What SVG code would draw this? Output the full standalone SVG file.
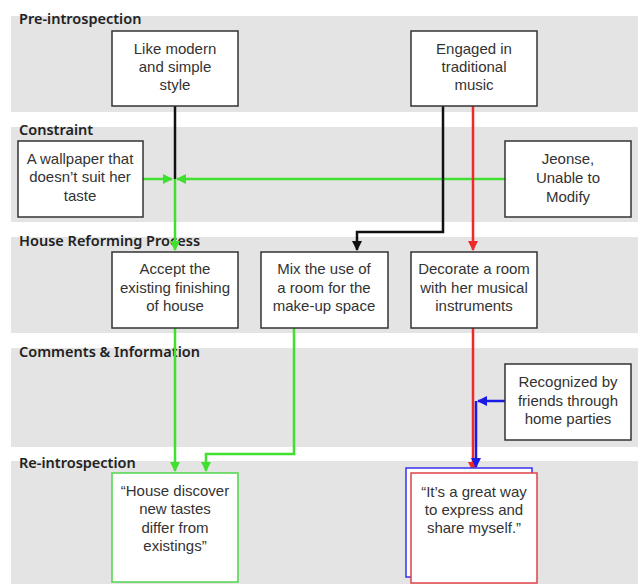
<svg xmlns="http://www.w3.org/2000/svg" width="641" height="584" viewBox="0 0 641 584">
<defs>
<style>
.band{fill:#e4e4e4}
.lbl{font-family:"Noto Sans","Liberation Sans",sans-serif;font-size:14.5px;font-weight:600;fill:#222}
.box{fill:#fff;stroke:#333;stroke-width:1.5}
.t{font-family:"Liberation Sans",Arial,sans-serif;font-size:15px;fill:#333;text-anchor:middle}
.c{fill:none;stroke-width:2.5}
.k{stroke:#111}
.g{stroke:#3fe02f}
.r{stroke:#ee2a2a}
.b{stroke:#1a1ae6}
</style>
<marker id="ak" viewBox="0 0 10 10" refX="9" refY="5" markerWidth="4.4" markerHeight="4" orient="auto" markerUnits="strokeWidth"><path d="M0,0L10,5L0,10z" fill="#111"/></marker>
<marker id="ag" viewBox="0 0 10 10" refX="9" refY="5" markerWidth="4.4" markerHeight="4" orient="auto" markerUnits="strokeWidth"><path d="M0,0L10,5L0,10z" fill="#3fe02f"/></marker>
<marker id="ar" viewBox="0 0 10 10" refX="9" refY="5" markerWidth="4.4" markerHeight="4" orient="auto" markerUnits="strokeWidth"><path d="M0,0L10,5L0,10z" fill="#ee2a2a"/></marker>
<marker id="ab" viewBox="0 0 10 10" refX="9" refY="5" markerWidth="4.4" markerHeight="4" orient="auto" markerUnits="strokeWidth"><path d="M0,0L10,5L0,10z" fill="#1a1ae6"/></marker>
</defs>
<rect width="641" height="584" fill="#fff"/>
<g id="bands">
<rect class="band" x="11" y="16" width="627" height="96"/>
<rect class="band" x="11" y="127" width="627" height="95"/>
<rect class="band" x="11" y="237" width="627" height="96"/>
<rect class="band" x="11" y="348" width="627" height="99"/>
<rect class="band" x="11" y="461" width="627" height="123"/>
<text class="lbl" x="19" y="24">Pre-introspection</text>
<text class="lbl" x="19" y="135">Constraint</text>
<text class="lbl" x="19" y="246">House Reforming Process</text>
<text class="lbl" x="19" y="357">Comments &amp; Information</text>
<text class="lbl" x="19" y="468">Re-introspection</text>
</g>
<g id="connectors">
<path class="c k" d="M175,106V179"/>
<path class="c g" d="M175,179V250" marker-end="url(#ag)"/>
<path class="c g" d="M143,179H172" marker-end="url(#ag)"/>
<path class="c g" d="M505,179H177" marker-end="url(#ag)"/>
<path class="c k" d="M443,106V232H357V250" marker-end="url(#ak)"/>
<path class="c r" d="M473,106V250" marker-end="url(#ar)"/>
<path class="c g" d="M175,328V471" marker-end="url(#ag)"/>
<path class="c g" d="M294,328V454H206V471" marker-end="url(#ag)"/>
<path class="c r" d="M473,328V471" marker-end="url(#ar)"/>
<path class="c b" d="M505,401H478" marker-end="url(#ab)"/>
<path class="c b" d="M476,401V467" marker-end="url(#ab)"/>
</g>
<g id="n1"><rect class="box" x="112" y="31" width="126" height="75"/>
<text class="t" x="175" y="54">Like modern</text><text class="t" x="175" y="72">and simple</text><text class="t" x="175" y="90">style</text></g>
<g id="n2"><rect class="box" x="411" y="31" width="126" height="75"/>
<text class="t" x="474" y="54">Engaged in</text><text class="t" x="474" y="72">traditional</text><text class="t" x="474" y="90">music</text></g>
<g id="n3"><rect class="box" x="18" y="141" width="125" height="76"/>
<text class="t" x="80" y="164">A wallpaper that</text><text class="t" x="80" y="182">doesn’t suit her</text><text class="t" x="80" y="201">taste</text></g>
<g id="n4"><rect class="box" x="505" y="141" width="126" height="76"/>
<text class="t" x="568" y="164">Jeonse,</text><text class="t" x="568" y="183">Unable to</text><text class="t" x="568" y="202">Modify</text></g>
<g id="n5"><rect class="box" x="112" y="252" width="126" height="76"/>
<text class="t" x="175" y="274">Accept the</text><text class="t" x="175" y="293">existing finishing</text><text class="t" x="175" y="311">of house</text></g>
<g id="n6"><rect class="box" x="261" y="252" width="127" height="76"/>
<text class="t" x="324" y="274">Mix the use of</text><text class="t" x="324" y="293">a room for the</text><text class="t" x="324" y="311">make-up space</text></g>
<g id="n7"><rect class="box" x="411" y="252" width="126" height="76"/>
<text class="t" x="474" y="274">Decorate a room</text><text class="t" x="474" y="293">with her musical</text><text class="t" x="474" y="311">instruments</text></g>
<g id="n8"><rect class="box" x="505" y="364" width="126" height="76"/>
<text class="t" x="568" y="387">Recognized by</text><text class="t" x="568" y="406">friends through</text><text class="t" x="568" y="424">home parties</text></g>
<g id="n9"><rect x="112" y="473" width="126" height="109" fill="#fff" stroke="#4fd54a" stroke-width="1.5"/>
<text class="t" x="175" y="496">“House discover</text><text class="t" x="175" y="514">new tastes</text><text class="t" x="175" y="533">differ from</text><text class="t" x="175" y="551">existings”</text></g>
<g id="n10"><rect x="406" y="468" width="126" height="109" fill="#fff" stroke="#3333ee" stroke-width="1.5"/>
<rect x="411" y="473" width="126" height="110" fill="#fff" stroke="#e0404a" stroke-width="1.5"/>
<text class="t" x="474" y="497">“It’s a great way</text><text class="t" x="474" y="515">to express and</text><text class="t" x="474" y="533">share myself.”</text></g>
</svg>
